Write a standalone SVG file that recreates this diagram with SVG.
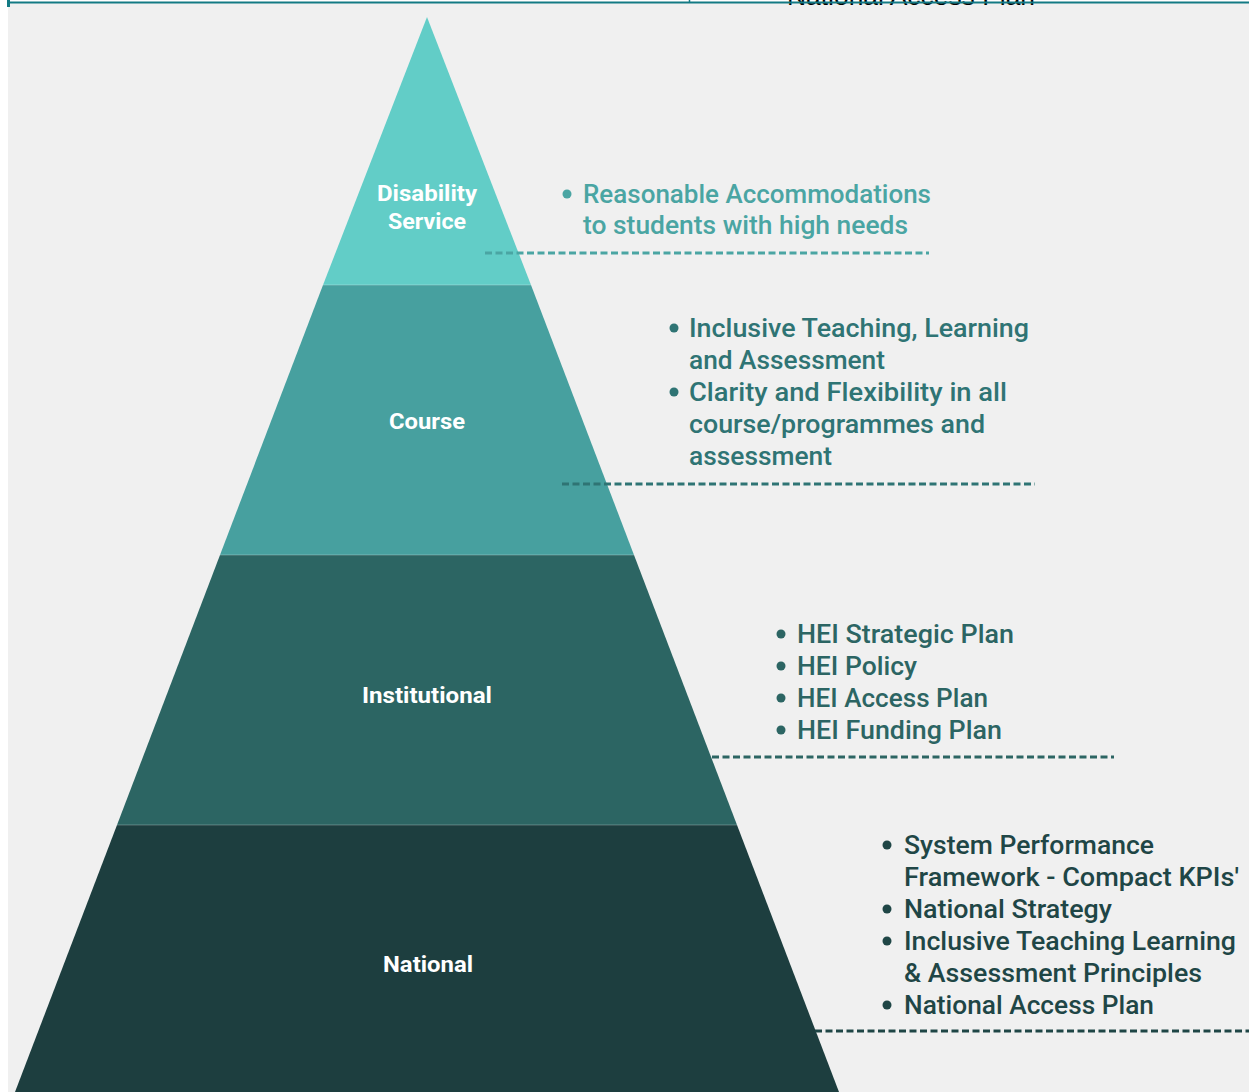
<svg xmlns="http://www.w3.org/2000/svg" width="1249" height="1092" viewBox="0 0 1249 1092">
  <style>
    .lvl { font-family: Roboto, "Liberation Sans", sans-serif; font-weight: 700; font-size: 22px; fill: #ffffff; text-anchor: middle; }
    .item { font-family: Roboto, "Liberation Sans", sans-serif; font-weight: 500; font-size: 25px; }
    .dash { fill: none; stroke-width: 3; stroke-dasharray: 7 3.5; }
    .sep { stroke: #ffffff; stroke-opacity: 0.18; stroke-width: 1.5; }
  </style>

  <!-- page -->
  <rect x="0" y="0" width="1249" height="1092" fill="#ffffff"/>
  <rect x="8" y="3" width="1241" height="1089" fill="#f0f0f0"/>

  <!-- clipped header strip of the previous table -->
  <text x="787" y="5" font-family="'Liberation Sans', Arial, sans-serif" font-size="26" fill="#000000" textLength="248" lengthAdjust="spacingAndGlyphs">National Access Plan</text>
  <line x1="8" y1="2.5" x2="1249" y2="2.5" stroke="#137a84" stroke-width="2"/>
  <rect x="7" y="0" width="3" height="7" fill="#137a84"/>
  <line x1="689.5" y1="0" x2="689.5" y2="3" stroke="#137a84" stroke-width="1.5"/>

  <!-- pyramid levels -->
  <g id="level-disability-service">
    <polygon points="427,17 531,285 323,285" fill="#62cdc7"/>
    <text class="lvl" x="427" y="201" textLength="100" lengthAdjust="spacingAndGlyphs">Disability</text>
    <text class="lvl" x="427" y="229" textLength="78" lengthAdjust="spacingAndGlyphs">Service</text>
  </g>
  <g id="level-course">
    <polygon points="323,285 531,285 634,555 220,555" fill="#47a09f"/>
    <text class="lvl" x="427" y="429" textLength="76" lengthAdjust="spacingAndGlyphs">Course</text>
  </g>
  <g id="level-institutional">
    <polygon points="220,555 634,555 737,825 117,825" fill="#2c6563"/>
    <text class="lvl" x="427" y="703" textLength="130" lengthAdjust="spacingAndGlyphs">Institutional</text>
  </g>
  <g id="level-national">
    <polygon points="117,825 737,825 839,1092 15,1092" fill="#1d3e3f"/>
    <text class="lvl" x="428" y="972" textLength="90" lengthAdjust="spacingAndGlyphs">National</text>
  </g>
  <g id="level-separators">
    <line class="sep" x1="323" y1="285" x2="531" y2="285"/>
    <line class="sep" x1="220" y1="555" x2="634" y2="555"/>
    <line class="sep" x1="117" y1="825" x2="737" y2="825"/>
  </g>

  <!-- leader lines -->
  <g id="connectors">
    <line class="dash" x1="485" y1="253" x2="929" y2="253" stroke="#4aa5a3"/>
    <line class="dash" x1="562" y1="484" x2="1035" y2="484" stroke="#2f7474"/>
    <line class="dash" x1="712" y1="757" x2="1114" y2="757" stroke="#2c6563"/>
    <line class="dash" x1="815" y1="1031" x2="1249" y2="1031" stroke="#1f4646"/>
  </g>

  <!-- level descriptions -->
  <g id="list-disability-service" fill="#4aa5a3">
    <circle cx="567" cy="194" r="4.5"/>
    <text class="item" x="583" y="203" textLength="348" lengthAdjust="spacingAndGlyphs">Reasonable Accommodations</text>
    <text class="item" x="583" y="234" textLength="325" lengthAdjust="spacingAndGlyphs">to students with high needs</text>
  </g>
  <g id="list-course" fill="#2f7474">
    <circle cx="674" cy="328" r="4.5"/>
    <text class="item" x="689" y="337" textLength="340" lengthAdjust="spacingAndGlyphs">Inclusive Teaching, Learning</text>
    <text class="item" x="689" y="369" textLength="196" lengthAdjust="spacingAndGlyphs">and Assessment</text>
    <circle cx="674" cy="392" r="4.5"/>
    <text class="item" x="689" y="401" textLength="318" lengthAdjust="spacingAndGlyphs">Clarity and Flexibility in all</text>
    <text class="item" x="689" y="433" textLength="296" lengthAdjust="spacingAndGlyphs">course/programmes and</text>
    <text class="item" x="689" y="465" textLength="143" lengthAdjust="spacingAndGlyphs">assessment</text>
  </g>
  <g id="list-institutional" fill="#2c6563">
    <circle cx="781" cy="634" r="4.5"/>
    <text class="item" x="797" y="643" textLength="217" lengthAdjust="spacingAndGlyphs">HEI Strategic Plan</text>
    <circle cx="781" cy="666" r="4.5"/>
    <text class="item" x="797" y="675" textLength="120" lengthAdjust="spacingAndGlyphs">HEI Policy</text>
    <circle cx="781" cy="698" r="4.5"/>
    <text class="item" x="797" y="707" textLength="191" lengthAdjust="spacingAndGlyphs">HEI Access Plan</text>
    <circle cx="781" cy="730" r="4.5"/>
    <text class="item" x="797" y="739" textLength="205" lengthAdjust="spacingAndGlyphs">HEI Funding Plan</text>
  </g>
  <g id="list-national" fill="#1f4646">
    <circle cx="887" cy="845" r="4.5"/>
    <text class="item" x="904" y="854" textLength="250" lengthAdjust="spacingAndGlyphs">System Performance</text>
    <text class="item" x="904" y="886" textLength="335" lengthAdjust="spacingAndGlyphs">Framework - Compact KPIs'</text>
    <circle cx="887" cy="909" r="4.5"/>
    <text class="item" x="904" y="918" textLength="208" lengthAdjust="spacingAndGlyphs">National Strategy</text>
    <circle cx="887" cy="941" r="4.5"/>
    <text class="item" x="904" y="950" textLength="332" lengthAdjust="spacingAndGlyphs">Inclusive Teaching Learning</text>
    <text class="item" x="904" y="982" textLength="298" lengthAdjust="spacingAndGlyphs">&amp; Assessment Principles</text>
    <circle cx="887" cy="1005" r="4.5"/>
    <text class="item" x="904" y="1014" textLength="250" lengthAdjust="spacingAndGlyphs">National Access Plan</text>
  </g>
</svg>
